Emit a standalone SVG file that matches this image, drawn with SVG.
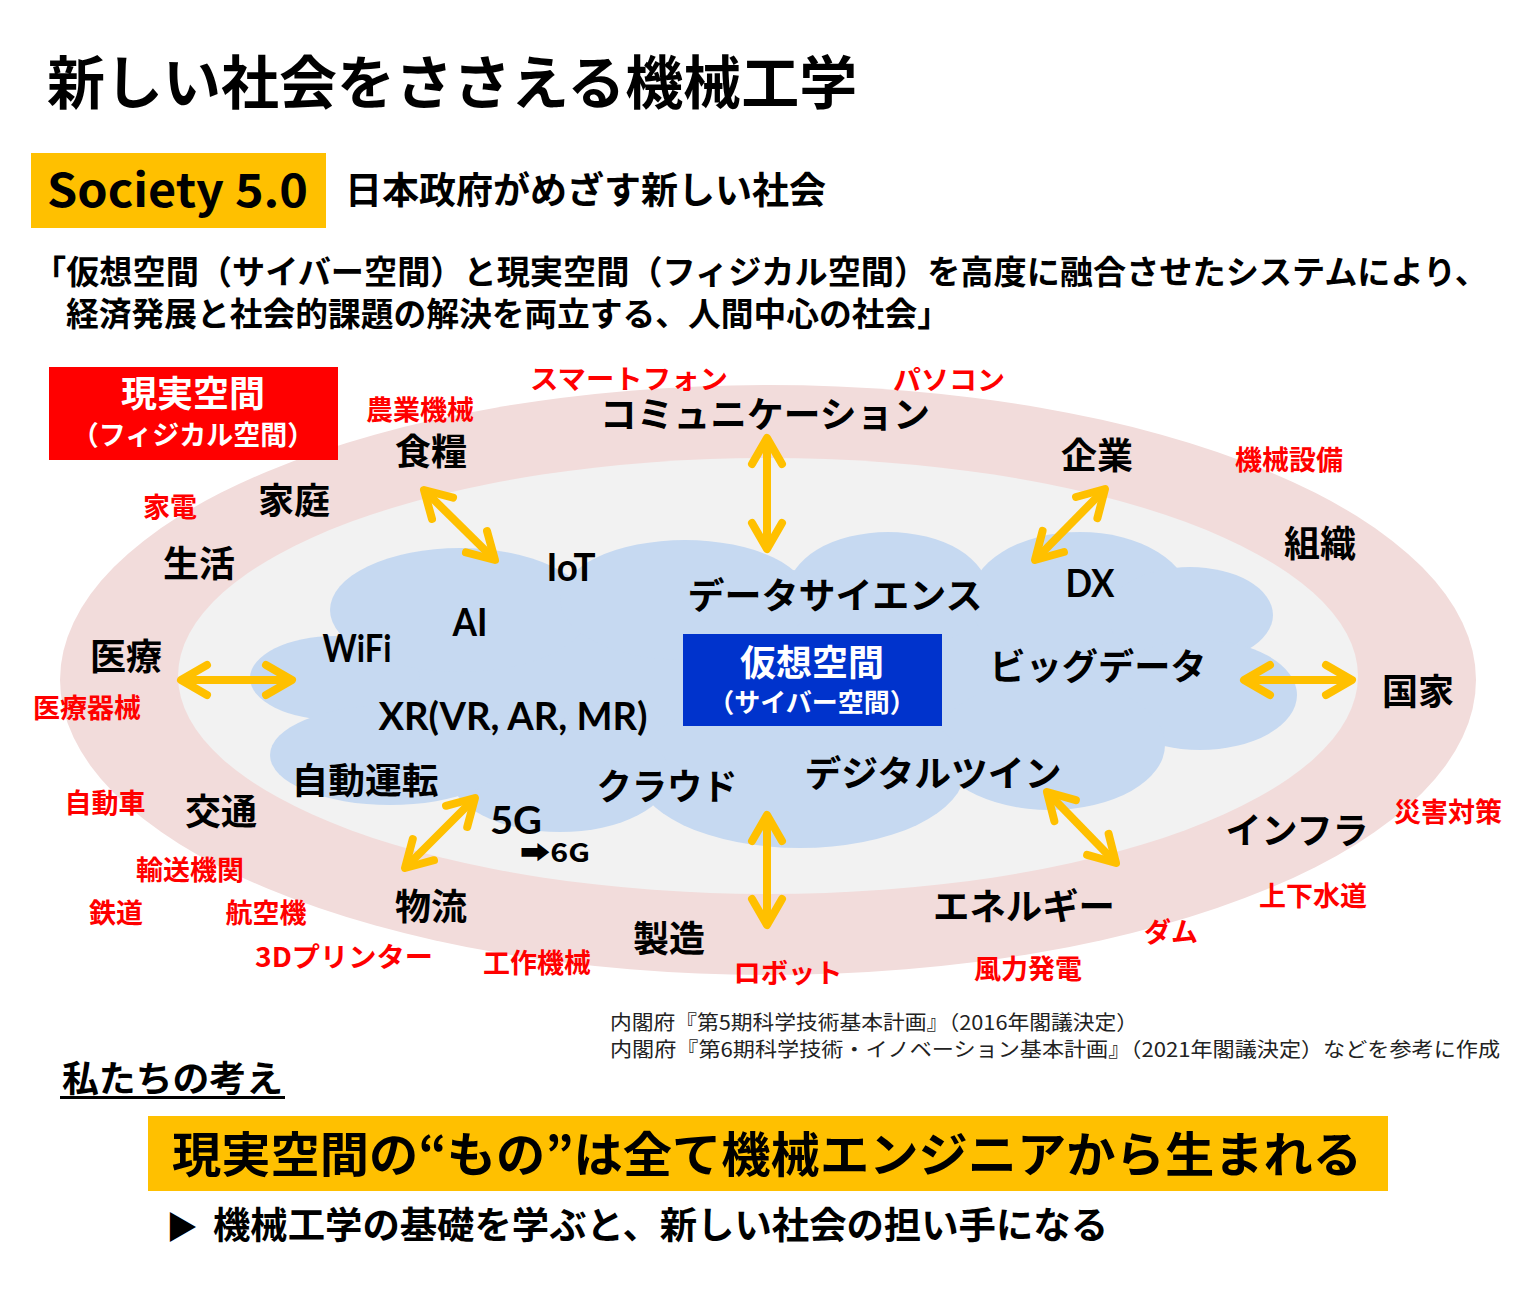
<svg xmlns="http://www.w3.org/2000/svg" width="1536" height="1299" viewBox="0 0 1536 1299">
<style>
text{font-family:"Noto Sans CJK JP","Noto Sans CJK SC",sans-serif}
.lbl{font-size:36px;font-weight:bold;fill:#000;text-anchor:middle}
.red{font-size:27px;font-weight:bold;fill:#FF0000;text-anchor:middle}
.lat{font-family:Lato,"Noto Sans",sans-serif;font-weight:bold;font-size:38px;fill:#000;text-anchor:middle}
.wt{fill:#fff;font-weight:bold;text-anchor:middle}
.arr{stroke:#FFC000;stroke-width:8;fill:none;marker-start:url(#ah);marker-end:url(#ah)}
.cloud ellipse{fill:#C6D9F1}
.src{font-size:20px;fill:#222}
</style>
<defs>
<marker id="ah" markerUnits="userSpaceOnUse" viewBox="-40 -30 60 60" refX="0" refY="0" markerWidth="60" markerHeight="60" orient="auto-start-reverse" overflow="visible">
<path d="M-26,-15 L0,0 L-26,15" fill="none" stroke="#FFC000" stroke-width="8" stroke-linecap="round" stroke-linejoin="round"/>
</marker>
</defs>
<rect width="1536" height="1299" fill="#fff"/>

<g id="title">
<text x="47" y="104" font-size="58" font-weight="bold">新しい社会をささえる機械工学</text>
</g>

<g id="society">
<rect x="31" y="153" width="295" height="75" fill="#FFC000"/>
<text x="47" y="207" font-size="46" font-weight="bold" textLength="261" lengthAdjust="spacingAndGlyphs">Society 5.0</text>
<text x="345" y="204" font-size="37" font-weight="bold">日本政府がめざす新しい社会</text>
</g>

<g id="definition" font-size="33" font-weight="bold">
<text x="33" y="284" textLength="1455" lengthAdjust="spacingAndGlyphs">「仮想空間（サイバー空間）と現実空間（フィジカル空間）を高度に融合させたシステムにより、</text>
<text x="66" y="326" textLength="884" lengthAdjust="spacingAndGlyphs">経済発展と社会的課題の解決を両立する、人間中心の社会」</text>
</g>

<g id="rings">
<ellipse cx="768" cy="680" rx="708" ry="295" fill="#F2DCDB"/>
<ellipse cx="768" cy="676" rx="590" ry="218" fill="#F2F2F2"/>
</g>

<g id="cloud" class="cloud">
<ellipse cx="780" cy="680" rx="420" ry="110"/>
<ellipse cx="335" cy="678" rx="85" ry="42"/>
<ellipse cx="460" cy="610" rx="130" ry="62"/>
<ellipse cx="685" cy="600" rx="125" ry="60"/>
<ellipse cx="888" cy="592" rx="100" ry="60"/>
<ellipse cx="1080" cy="600" rx="110" ry="68"/>
<ellipse cx="1190" cy="615" rx="83" ry="48"/>
<ellipse cx="1200" cy="695" rx="97" ry="55"/>
<ellipse cx="1050" cy="745" rx="115" ry="65"/>
<ellipse cx="800" cy="770" rx="165" ry="78"/>
<ellipse cx="560" cy="775" rx="110" ry="57"/>
<ellipse cx="390" cy="755" rx="120" ry="50"/>
</g>

<g id="connectors">
<line class="arr" x1="424" y1="490" x2="495" y2="560"/>
<line class="arr" x1="767" y1="438" x2="767" y2="549"/>
<line class="arr" x1="1105" y1="489" x2="1035" y2="560"/>
<line class="arr" x1="181" y1="680" x2="292" y2="680"/>
<line class="arr" x1="1244" y1="680" x2="1352" y2="680"/>
<line class="arr" x1="475" y1="798" x2="405" y2="868"/>
<line class="arr" x1="767" y1="815" x2="767" y2="925"/>
<line class="arr" x1="1047" y1="792" x2="1116" y2="863"/>
</g>

<g id="real-space">
<rect x="49" y="367" width="289" height="93" fill="#FF0000"/>
<text class="wt" x="193" y="407" font-size="36">現実空間</text>
<text class="wt" x="193" y="445" font-size="27">（フィジカル空間）</text>
</g>

<g id="cyber-space">
<rect x="683" y="634" width="259" height="92" fill="#0033CC"/>
<text class="wt" x="812" y="676" font-size="36">仮想空間</text>
<text class="wt" x="812" y="712" font-size="26">（サイバー空間）</text>
</g>

<g id="physical-labels">
<g id="n-comm"><text class="lbl" x="765" y="428" textLength="330" lengthAdjust="spacingAndGlyphs">コミュニケーション</text></g>
<g id="n-food"><text class="lbl" x="431" y="465">食糧</text></g>
<g id="n-company"><text class="lbl" x="1097" y="469">企業</text></g>
<g id="n-home"><text class="lbl" x="294" y="514">家庭</text></g>
<g id="n-life"><text class="lbl" x="199" y="577">生活</text></g>
<g id="n-org"><text class="lbl" x="1320" y="557">組織</text></g>
<g id="n-medical"><text class="lbl" x="126" y="670">医療</text></g>
<g id="n-nation"><text class="lbl" x="1418" y="705">国家</text></g>
<g id="n-traffic"><text class="lbl" x="221" y="825">交通</text></g>
<g id="n-infra"><text class="lbl" x="1297" y="844">インフラ</text></g>
<g id="n-logistics"><text class="lbl" x="431" y="920">物流</text></g>
<g id="n-manufacturing"><text class="lbl" x="669" y="952">製造</text></g>
<g id="n-energy"><text class="lbl" x="1024" y="920" textLength="182" lengthAdjust="spacingAndGlyphs">エネルギー</text></g>
</g>

<g id="cyber-labels">
<g id="n-ds"><text class="lbl" x="835" y="609" textLength="295" lengthAdjust="spacingAndGlyphs">データサイエンス</text></g>
<g id="n-bigdata"><text class="lbl" x="1098" y="680" textLength="217" lengthAdjust="spacingAndGlyphs">ビッグデータ</text></g>
<g id="n-twin"><text class="lbl" x="933" y="787" textLength="257" lengthAdjust="spacingAndGlyphs">デジタルツイン</text></g>
<g id="n-cloud"><text class="lbl" x="667" y="800" textLength="141" lengthAdjust="spacingAndGlyphs">クラウド</text></g>
<g id="n-auto"><text class="lbl" x="365" y="794" textLength="147" lengthAdjust="spacingAndGlyphs">自動運転</text></g>
<g id="n-iot"><text class="lat" x="571" y="581" textLength="49" lengthAdjust="spacingAndGlyphs">IoT</text></g>
<g id="n-ai"><text class="lat" x="470" y="636" textLength="35" lengthAdjust="spacingAndGlyphs">AI</text></g>
<g id="n-wifi"><text class="lat" x="357" y="662" textLength="69" lengthAdjust="spacingAndGlyphs">WiFi</text></g>
<g id="n-xr"><text class="lat" x="513" y="730" textLength="269" lengthAdjust="spacingAndGlyphs">XR(VR, AR, MR)</text></g>
<g id="n-dx"><text class="lat" x="1090" y="597" textLength="49" lengthAdjust="spacingAndGlyphs">DX</text></g>
<g id="n-5g"><text class="lat" x="516" y="834" textLength="52" lengthAdjust="spacingAndGlyphs">5G</text></g>
<g id="n-6g"><text x="555" y="862" font-family="'DejaVu Sans',Lato,sans-serif" font-weight="bold" font-size="26" text-anchor="middle" textLength="70" lengthAdjust="spacingAndGlyphs">➡6G</text></g>
</g>

<g id="machine-labels">
<text class="red" x="629" y="389" textLength="198" lengthAdjust="spacingAndGlyphs">スマートフォン</text>
<text class="red" x="949" y="390" textLength="112" lengthAdjust="spacingAndGlyphs">パソコン</text>
<text class="red" x="420" y="420">農業機械</text>
<text class="red" x="1289" y="470">機械設備</text>
<text class="red" x="170" y="517">家電</text>
<text class="red" x="87" y="718">医療器械</text>
<text class="red" x="105" y="813">自動車</text>
<text class="red" x="190" y="880">輸送機関</text>
<text class="red" x="116" y="923">鉄道</text>
<text class="red" x="266" y="923">航空機</text>
<text class="red" x="344" y="967" textLength="178" lengthAdjust="spacingAndGlyphs">3Dプリンター</text>
<text class="red" x="537" y="973">工作機械</text>
<text class="red" x="788" y="983" textLength="109" lengthAdjust="spacingAndGlyphs">ロボット</text>
<text class="red" x="1028" y="979">風力発電</text>
<text class="red" x="1171" y="942">ダム</text>
<text class="red" x="1313" y="906">上下水道</text>
<text class="red" x="1448" y="822">災害対策</text>
</g>

<g id="source">
<text class="src" x="610" y="1030" textLength="528" lengthAdjust="spacingAndGlyphs">内閣府『第5期科学技術基本計画』（2016年閣議決定）</text>
<text class="src" x="610" y="1057" textLength="890" lengthAdjust="spacingAndGlyphs">内閣府『第6期科学技術・イノベーション基本計画』（2021年閣議決定）などを参考に作成</text>
</g>

<g id="our-view">
<text x="62" y="1092" font-size="36" font-weight="bold" textLength="221" lengthAdjust="spacingAndGlyphs">私たちの考え</text>
<rect x="60" y="1096" width="225" height="3" fill="#000"/>
</g>

<g id="banner">
<rect x="148" y="1116" width="1240" height="75" fill="#FFC000"/>
<text x="172" y="1172" font-size="48" font-weight="bold" textLength="1190" lengthAdjust="spacingAndGlyphs">現実空間の“もの”は全て機械エンジニアから生まれる</text>
</g>

<g id="conclusion">
<text x="166" y="1239" font-size="32" font-family="'DejaVu Sans',sans-serif">▶</text>
<text x="213" y="1239" font-size="37" font-weight="bold" textLength="895" lengthAdjust="spacingAndGlyphs">機械工学の基礎を学ぶと、新しい社会の担い手になる</text>
</g>
</svg>
